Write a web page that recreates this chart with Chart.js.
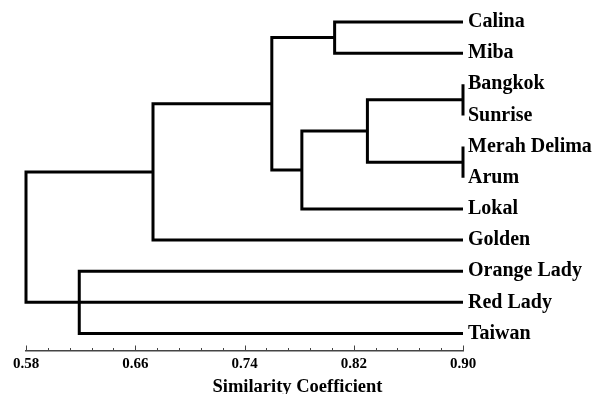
<!DOCTYPE html>
<html>
<head>
<meta charset="utf-8">
<script src="https://cdn.jsdelivr.net/npm/chart.js@4.4.1/dist/chart.umd.min.js"></script>
<style>
  html, body { margin: 0; padding: 0; background: #fff; }
  #wrap { width: 595px; height: 394px; }
</style>
</head>
<body>
<div id="wrap"><canvas id="dendro"></canvas></div>
<script>
// leaves, top to bottom
const leafNames = ['Calina', 'Miba', 'Bangkok', 'Sunrise', 'Merah Delima', 'Arum',
                   'Lokal', 'Golden', 'Orange Lady', 'Red Lady', 'Taiwan'];

// each cluster joins its children (leaf names or earlier cluster ids c0, c1, ...)
const clusterChildren = [
    ['Calina', 'Miba'],                       // c0
    ['Bangkok', 'Sunrise'],                   // c1
    ['Merah Delima', 'Arum'],                 // c2
    ['c1', 'c2'],                             // c3
    ['c3', 'Lokal'],                          // c4
    ['c0', 'c4'],                             // c5
    ['c5', 'Golden'],                         // c6
    ['Orange Lady', 'Red Lady', 'Taiwan'],    // c7
    ['c6', 'c7']                              // c8 (root)
];
const clusterSimilarity = [0.806, 0.90, 0.90, 0.830, 0.782, 0.760, 0.673, 0.619, 0.58];

const tickLabels = ['0.58', '0.66', '0.74', '0.82', '0.90'];
const minorPerMajor = 5;

const leafEnd = 0.90;
const labelFont = { family: 'Liberation Serif', size: 20, weight: 'bold' };

function branch(points) {
    return {
        data: points,
        showLine: true,
        borderColor: '#000',
        borderWidth: 3,
        borderJoinStyle: 'miter',
        pointRadius: 0,
        clip: false
    };
}

// work out where each node sits and build the elbow lines
const nodes = {};
leafNames.forEach((name, i) => { nodes[name] = { x: leafEnd, y: i }; });

const datasets = [];
clusterChildren.forEach((kids, i) => {
    const sim = clusterSimilarity[i];
    const pts = kids.map(k => nodes[k]);
    const first = pts[0];
    const last = pts[pts.length - 1];
    datasets.push(branch([
        { x: first.x, y: first.y },
        { x: sim, y: first.y },
        { x: sim, y: last.y },
        { x: last.x, y: last.y }
    ]));
    pts.slice(1, -1).forEach(p => {
        datasets.push(branch([{ x: p.x, y: p.y }, { x: sim, y: p.y }]));
    });
    nodes['c' + i] = { x: sim, y: (first.y + last.y) / 2 };
});

// x tick values: majors from the labels, minors in between
const xTicks = [];
tickLabels.forEach((lab, i) => {
    const v = parseFloat(lab);
    xTicks.push(v);
    if (i < tickLabels.length - 1) {
        const next = parseFloat(tickLabels[i + 1]);
        for (let k = 1; k < minorPerMajor; k++) {
            xTicks.push(v + (next - v) * k / minorPerMajor);
        }
    }
});

const axisTicks = {
    id: 'axisTicks',
    afterDraw(chart) {
        const s = chart.scales.x;
        const ctx = chart.ctx;
        const y0 = chart.chartArea.bottom;
        ctx.save();
        ctx.strokeStyle = '#444';
        ctx.lineWidth = 1;
        s.ticks.forEach((t, i) => {
            const px = Math.round(s.getPixelForValue(t.value)) + 0.5;
            const len = i % minorPerMajor === 0 ? 5 : 2.5;
            ctx.beginPath();
            ctx.moveTo(px, y0);
            ctx.lineTo(px, y0 - len);
            ctx.stroke();
        });
        ctx.restore();
    }
};

new Chart(document.getElementById('dendro').getContext('2d'), {
    type: 'scatter',
    data: { datasets: datasets },
    plugins: [axisTicks],
    options: {
        responsive: true,
        maintainAspectRatio: false,
        animation: false,
        layout: { padding: 0 },
        plugins: {
            legend: { display: false },
            tooltip: { enabled: false },
            title: {
                display: true,
                position: 'bottom',
                text: 'Similarity Coefficient',
                color: '#000',
                font: { family: 'Liberation Serif', size: 18.5, weight: 'bold', lineHeight: 1 },
                padding: { top: 0, bottom: -2 }
            }
        },
        scales: {
            x: {
                type: 'linear',
                min: 0.58,
                max: 0.90,
                afterBuildTicks: s => { s.ticks = xTicks.map(v => ({ value: v })); },
                afterFit: s => { s.height = 27; },
                ticks: {
                    autoSkip: false,
                    maxRotation: 0,
                    padding: 5,
                    color: '#000',
                    font: { family: 'Liberation Serif', size: 15, weight: 'bold' },
                    callback: (v, i) => i % minorPerMajor === 0 ? tickLabels[i / minorPerMajor] : ''
                },
                grid: { display: false, drawTicks: false },
                border: { display: true, color: '#444', width: 1.5 }
            },
            y: {
                type: 'linear',
                position: 'right',
                reverse: true,
                min: -0.16,
                max: 10.545,
                afterBuildTicks: s => { s.ticks = leafNames.map((_, i) => ({ value: i })); },
                afterFit: s => { s.width = 132; },
                ticks: {
                    autoSkip: false,
                    padding: 5,
                    color: '#000',
                    font: labelFont,
                    callback: (v, i) => leafNames[i]
                },
                grid: { display: false, drawTicks: false },
                border: { display: false }
            },
            // empty left gutter so the chart area starts where the reference does
            gutter: {
                type: 'linear',
                position: 'left',
                afterFit: s => { s.width = 26; },
                ticks: { display: false },
                grid: { display: false, drawTicks: false },
                border: { display: false }
            }
        }
    }
});
</script>
</body>
</html>
